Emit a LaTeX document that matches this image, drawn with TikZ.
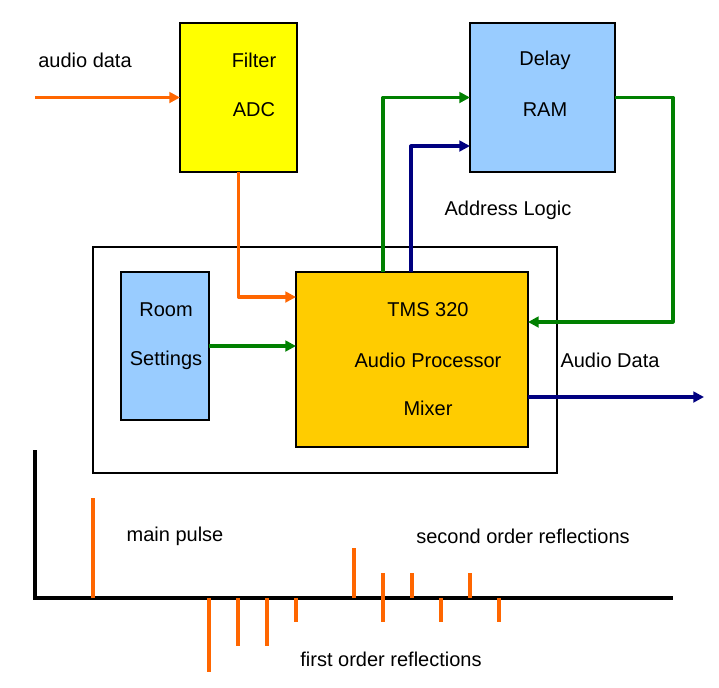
\documentclass[tikz,border=0pt]{standalone}
\usepackage{fontspec}
\setmainfont{Liberation Sans}
\usetikzlibrary{arrows.meta,calc}
\definecolor{orng}{RGB}{255,102,0}
\definecolor{grn}{RGB}{0,128,0}
\definecolor{navy}{RGB}{0,0,128}
\definecolor{yel}{RGB}{255,255,0}
\definecolor{lblue}{RGB}{153,204,255}
\definecolor{gold}{RGB}{255,204,0}
\begin{document}
\begin{tikzpicture}[x=0.75pt,y=-0.75pt,
  box/.style={draw=black,line width=1.5pt,anchor=north west,inner sep=0pt,outer sep=0pt},
  lbl/.style={font=\fontsize{15}{18}\selectfont,inner sep=0pt},
  conn/.style={line width=2.4pt,line join=round,-{Triangle[length=8pt,width=8pt]}},
  pulse/.style={orng,line width=2.4pt},
  axis/.style={black,line width=2.3pt}]
\useasboundingbox (0,0) rectangle (719,687);
% outer box
\node[box,minimum width=348pt,minimum height=169.5pt] (outer) at (93,247) {};
% blocks
\node[box,fill=yel,minimum width=87.75pt,minimum height=111.75pt] (filter) at (180,23) {};
\node[box,fill=lblue,minimum width=108.75pt,minimum height=111.75pt] (delay) at (470,23) {};
\node[box,fill=lblue,minimum width=66pt,minimum height=111pt] (room) at (121,272) {};
\node[box,fill=gold,minimum width=174pt,minimum height=131.25pt] (tms) at (296,272) {};
% texts
\node[lbl] (tfilter) at (254,60) {Filter};
\node[lbl] (tadc) at (254,110) {ADC};
\node[lbl] (tdelay) at (545,60) {Delay};
\node[lbl] (tram) at (545,110) {RAM};
\node[lbl] (troom) at (166,310) {Room};
\node[lbl] (tsett) at (166,360) {Settings};
\node[lbl] (ttms) at (428,310) {TMS 320};
\node[lbl] (tproc) at (428,360) {Audio Processor};
\node[lbl] (tmix) at (428,408) {Mixer};
\node[lbl] (taudio) at (85,60) {audio data};
\node[lbl] (taddr) at (508,210) {Address Logic};
\node[lbl] (tadata) at (610,360) {Audio Data};
\node[lbl] (tmain) at (175,536) {main pulse};
\node[lbl] (tsecond) at (523,536) {second order reflections};
\node[lbl] (tfirst) at (391,659) {first order reflections};
% connector end points
\coordinate (ain) at (35,97.5);
\coordinate (aout) at (704,397);
\coordinate (fb) at (673,97.5);
% connectors
\draw[conn,orng] (ain) -- (filter.west);
\draw[conn,orng] (filter.south) |- ($(tms.north west)+(0,25)$);
\draw[conn,grn] ($(tms.north west)+(87,0)$) |- (delay.west);
\draw[conn,navy] ($(tms.north west)+(115,0)$) |- ($(delay.north west)+(0,123)$);
\draw[conn,grn] (delay.east) -- (fb) |- ($(tms.north east)+(0,50)$);
\draw[conn,grn] (room.east) -- (room.east -| tms.west);
\draw[conn,navy] ($(tms.south east)+(0,-50)$) -- (aout);
% impulse response
\coordinate (o) at (35,598);
\draw[axis] (35,450) -- (o) -- (673,598);
\draw[pulse] (93,598) -- (93,498);
\draw[pulse] (209,598) -- (209,672);
\draw[pulse] (238,598) -- (238,646);
\draw[pulse] (267,598) -- (267,646);
\draw[pulse] (296,598) -- (296,622);
\draw[pulse] (354,598) -- (354,548);
\draw[pulse] (383,573) -- (383,622);
\draw[pulse] (412,598) -- (412,573);
\draw[pulse] (441,598) -- (441,622);
\draw[pulse] (470,598) -- (470,573);
\draw[pulse] (499,598) -- (499,622);
\end{tikzpicture}
\end{document}
